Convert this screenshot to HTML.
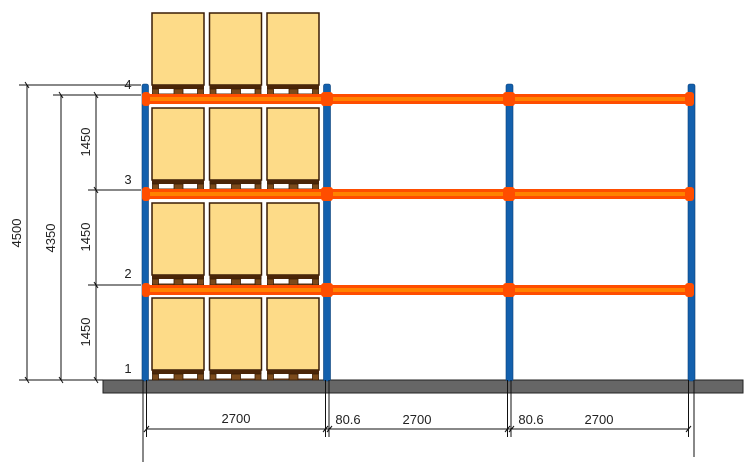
<!DOCTYPE html>
<html><head><meta charset="utf-8"><style>
html,body{margin:0;padding:0;background:#fff;}
svg{display:block;}
text{font-family:"Liberation Sans",Arial,sans-serif;font-size:13px;fill:#222;}
</style></head><body>
<svg width="751" height="469" viewBox="0 0 751 469" xmlns="http://www.w3.org/2000/svg">
<defs>
<g id="pal">
  <rect x="0" y="0" width="52" height="72" fill="#fddb88" stroke="#3a1d06" stroke-width="1.5"/>
  <rect x="0" y="72" width="52" height="10" fill="#fff"/>
  <rect x="0" y="72" width="52" height="4" fill="#4a2508"/>
  <rect x="0" y="80.5" width="52" height="1.5" fill="#5a3010"/>
  <rect x="0.5" y="76" width="6" height="6" fill="#7b4a1b" stroke="#3a1d06" stroke-width="0.8"/>
  <rect x="22" y="76" width="9" height="6" fill="#7b4a1b" stroke="#3a1d06" stroke-width="0.8"/>
  <rect x="45.5" y="76" width="6" height="6" fill="#7b4a1b" stroke="#3a1d06" stroke-width="0.8"/>
</g>
<g id="row">
  <use href="#pal" x="152"/>
  <use href="#pal" x="209.5"/>
  <use href="#pal" x="267"/>
</g>
<g id="beam">
  <rect x="145" y="0" width="546" height="10" fill="#ff4d00"/>
  <rect x="145" y="3" width="546" height="4" fill="#ff8200"/>
  <rect x="142" y="-2" width="8" height="14" rx="3" fill="#ff4d00"/>
  <rect x="321" y="-2" width="12" height="14" rx="3" fill="#ff4d00"/>
  <rect x="503" y="-2" width="12" height="14" rx="3" fill="#ff4d00"/>
  <rect x="685" y="-2" width="9" height="14" rx="3" fill="#ff4d00"/>
</g>
</defs>

<!-- floor -->
<rect x="103" y="380" width="640" height="13" fill="#666" stroke="#222" stroke-width="1"/>

<!-- uprights -->
<rect x="142" y="84" width="6.5" height="297" rx="2" fill="#1360ad" stroke="#0a3f78" stroke-width="0.6"/>
<rect x="323.5" y="84" width="7" height="297" rx="2" fill="#1360ad" stroke="#0a3f78" stroke-width="0.6"/>
<rect x="506" y="84" width="7" height="297" rx="2" fill="#1360ad" stroke="#0a3f78" stroke-width="0.6"/>
<rect x="688" y="84" width="7" height="297" rx="2" fill="#1360ad" stroke="#0a3f78" stroke-width="0.6"/>

<!-- pallets -->
<use href="#row" y="13"/>
<use href="#row" y="108"/>
<use href="#row" y="203"/>
<use href="#row" y="298"/>

<!-- beams -->
<use href="#beam" y="94"/>
<use href="#beam" y="189"/>
<use href="#beam" y="285"/>

<!-- left dimensions -->
<g stroke="#111" stroke-width="1" fill="none">
  <line x1="19" y1="85" x2="141" y2="85"/>
  <line x1="53" y1="95" x2="141" y2="95"/>
  <line x1="88" y1="190" x2="141" y2="190"/>
  <line x1="88" y1="285" x2="141" y2="285"/>
  <line x1="19" y1="380" x2="103" y2="380"/>
  <line x1="27" y1="85" x2="27" y2="380"/>
  <line x1="61" y1="95" x2="61" y2="380"/>
  <line x1="96" y1="95" x2="96" y2="380"/>
  <!-- ticks -->
  <line x1="25" y1="82" x2="29" y2="88"/>
  <line x1="25" y1="377" x2="29" y2="383"/>
  <line x1="59" y1="92" x2="63" y2="98"/>
  <line x1="59" y1="377" x2="63" y2="383"/>
  <line x1="94" y1="92" x2="98" y2="98"/>
  <line x1="94" y1="187" x2="98" y2="193"/>
  <line x1="94" y1="282" x2="98" y2="288"/>
  <line x1="94" y1="377" x2="98" y2="383"/>
</g>

<!-- bottom dimensions -->
<g stroke="#111" stroke-width="1" fill="none">
  <line x1="143" y1="380" x2="143" y2="462"/>
  <line x1="146.5" y1="380" x2="146.5" y2="437"/>
  <line x1="325.5" y1="380" x2="325.5" y2="437"/>
  <line x1="329" y1="380" x2="329" y2="437"/>
  <line x1="507.5" y1="380" x2="507.5" y2="437"/>
  <line x1="511" y1="380" x2="511" y2="437"/>
  <line x1="688.5" y1="380" x2="688.5" y2="437"/>
  <line x1="694" y1="380" x2="694" y2="457"/>
  <line x1="146" y1="429" x2="689" y2="429"/>
  <line x1="144" y1="432" x2="149" y2="426"/>
  <line x1="323" y1="432" x2="328" y2="426"/>
  <line x1="327" y1="432" x2="332" y2="426"/>
  <line x1="505" y1="432" x2="510" y2="426"/>
  <line x1="509" y1="432" x2="514" y2="426"/>
  <line x1="686" y1="432" x2="691" y2="426"/>
</g>

<!-- labels -->
<text x="236" y="423" text-anchor="middle">2700</text>
<text x="348" y="424" text-anchor="middle">80.6</text>
<text x="417" y="424" text-anchor="middle">2700</text>
<text x="531" y="424" text-anchor="middle">80.6</text>
<text x="599" y="424" text-anchor="middle">2700</text>

<text x="128" y="89" text-anchor="middle" font-size="12">4</text>
<text x="128" y="184" text-anchor="middle" font-size="12">3</text>
<text x="128" y="278" text-anchor="middle" font-size="12">2</text>
<text x="128" y="373" text-anchor="middle" font-size="12">1</text>

<text transform="translate(21,233) rotate(-90)" text-anchor="middle">4500</text>
<text transform="translate(55,238) rotate(-90)" text-anchor="middle">4350</text>
<text transform="translate(90,142) rotate(-90)" text-anchor="middle">1450</text>
<text transform="translate(90,237) rotate(-90)" text-anchor="middle">1450</text>
<text transform="translate(90,332) rotate(-90)" text-anchor="middle">1450</text>
</svg>
</body></html>
